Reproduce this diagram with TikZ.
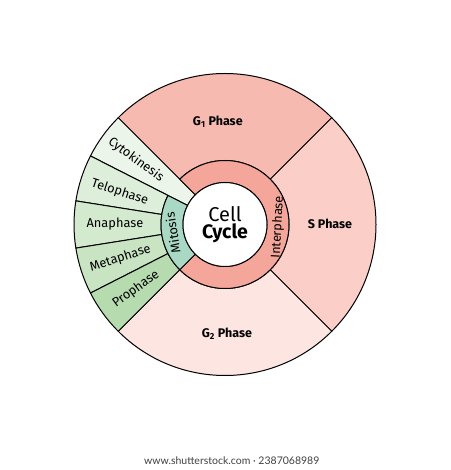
\documentclass[tikz,border=0pt]{standalone}
\usepackage{fontspec}
\setmainfont{Fira Sans}
\newfontfamily\latofont{Lato}
\usepackage{xcolor}
\usepackage{tikz}
\usetikzlibrary{calc, positioning}

\definecolor{gunoCol}{HTML}{F7BAB0}
\definecolor{sCol}{HTML}{FBCEC8}
\definecolor{gdosCol}{HTML}{FDE5E2}
\definecolor{interCol}{HTML}{F4A69A}
\definecolor{mitoCol}{HTML}{A9D9C5}
\definecolor{citoCol}{HTML}{EBF5E9}
\definecolor{teloCol}{HTML}{DDEFDA}
\definecolor{anaCol}{HTML}{D3EACF}
\definecolor{metaCol}{HTML}{C8E4C2}
\definecolor{proCol}{HTML}{B6DBAF}

\begin{document}
\begin{tikzpicture}[x=1pt, y=1pt, line width=0.9pt, text=black,
    sector/.style={draw=black, line width=1pt, line join=round},
    phase/.style={font=\fontsize{12.5}{14}\selectfont\bfseries, inner sep=0pt},
    stage/.style={font=\fontsize{12.8}{14}\selectfont, inner sep=0pt},
    ring/.style={font=\fontsize{12.8}{14}\selectfont, inner sep=0pt}]
        \useasboundingbox (-225,-245.5) rectangle (225,224.5);

        % Interfase: G1, S y G2
        \path[sector, fill=gunoCol] (45:64) arc[start angle=45, end angle=135, radius=64] -- (135:151) arc[start angle=135, end angle=45, radius=151] -- cycle;
        \path[sector, fill=sCol] (-45:64) arc[start angle=-45, end angle=45, radius=64] -- (45:151) arc[start angle=45, end angle=-45, radius=151] -- cycle;
        \path[sector, fill=gdosCol] (225:64) arc[start angle=225, end angle=315, radius=64] -- (315:151) arc[start angle=315, end angle=225, radius=151] -- cycle;

        % Fases de la mitosis
        \path[sector, fill=citoCol] (135:42) arc[start angle=135, end angle=153, radius=42] -- (153:151) arc[start angle=153, end angle=135, radius=151] -- cycle;
        \path[sector, fill=teloCol] (153:64) arc[start angle=153, end angle=171, radius=64] -- (171:151) arc[start angle=171, end angle=153, radius=151] -- cycle;
        \path[sector, fill=anaCol] (171:64) arc[start angle=171, end angle=189, radius=64] -- (189:151) arc[start angle=189, end angle=171, radius=151] -- cycle;
        \path[sector, fill=metaCol] (189:64) arc[start angle=189, end angle=207, radius=64] -- (207:151) arc[start angle=207, end angle=189, radius=151] -- cycle;
        \path[sector, fill=proCol] (207:64) arc[start angle=207, end angle=225, radius=64] -- (225:151) arc[start angle=225, end angle=207, radius=151] -- cycle;

        % Anillo interior
        \path[sector, fill=interCol] (-135:42) arc[start angle=-135, end angle=135, radius=42] -- (135:64) arc[start angle=135, end angle=-135, radius=64] -- cycle;
        \path[sector, fill=mitoCol] (153:42) arc[start angle=153, end angle=225, radius=42] -- (225:64) arc[start angle=225, end angle=153, radius=64] -- cycle;
        \path[sector, fill=white] (0,0) circle[radius=42];

        % Etiquetas
        \node[phase] (g1) at (94:103) {G\textsubscript{1} Phase};
        \node[phase] (sph) at (0.5:105) {S Phase};
        \node[phase] (g2) at (-89:109) {G\textsubscript{2} Phase};

        \node[stage, rotate=-36] (cito) at (144:110) {Cytokinesis};
        \node[stage, rotate=-18] (telo) at (163:110) {Telophase};
        \node[stage] (ana) at (180:110) {Anaphase};
        \node[stage, rotate=18] (meta) at (198:110) {Metaphase};
        \node[stage, rotate=36] (pro) at (216:110) {Prophase};

        \node[ring, rotate=99] (mito) at (189:53) {Mitosis};
        \node[ring, rotate=87] (inter) at (-3:53) {Interphase};

        \node[font=\fontsize{20}{22}\selectfont, inner sep=0pt] (cell) at (0,10) {Cell};
        \node[font=\fontsize{19.5}{22}\selectfont\bfseries, inner sep=0pt] (cycle) at (0,-9) {Cycle};

        \node[font=\latofont\fontsize{10.5}{12}\selectfont, text=black!75, inner sep=0pt] (web) at (6.7,-236.5) {www.shutterstock.com · 2387068989};

    \end{tikzpicture}
\end{document}
